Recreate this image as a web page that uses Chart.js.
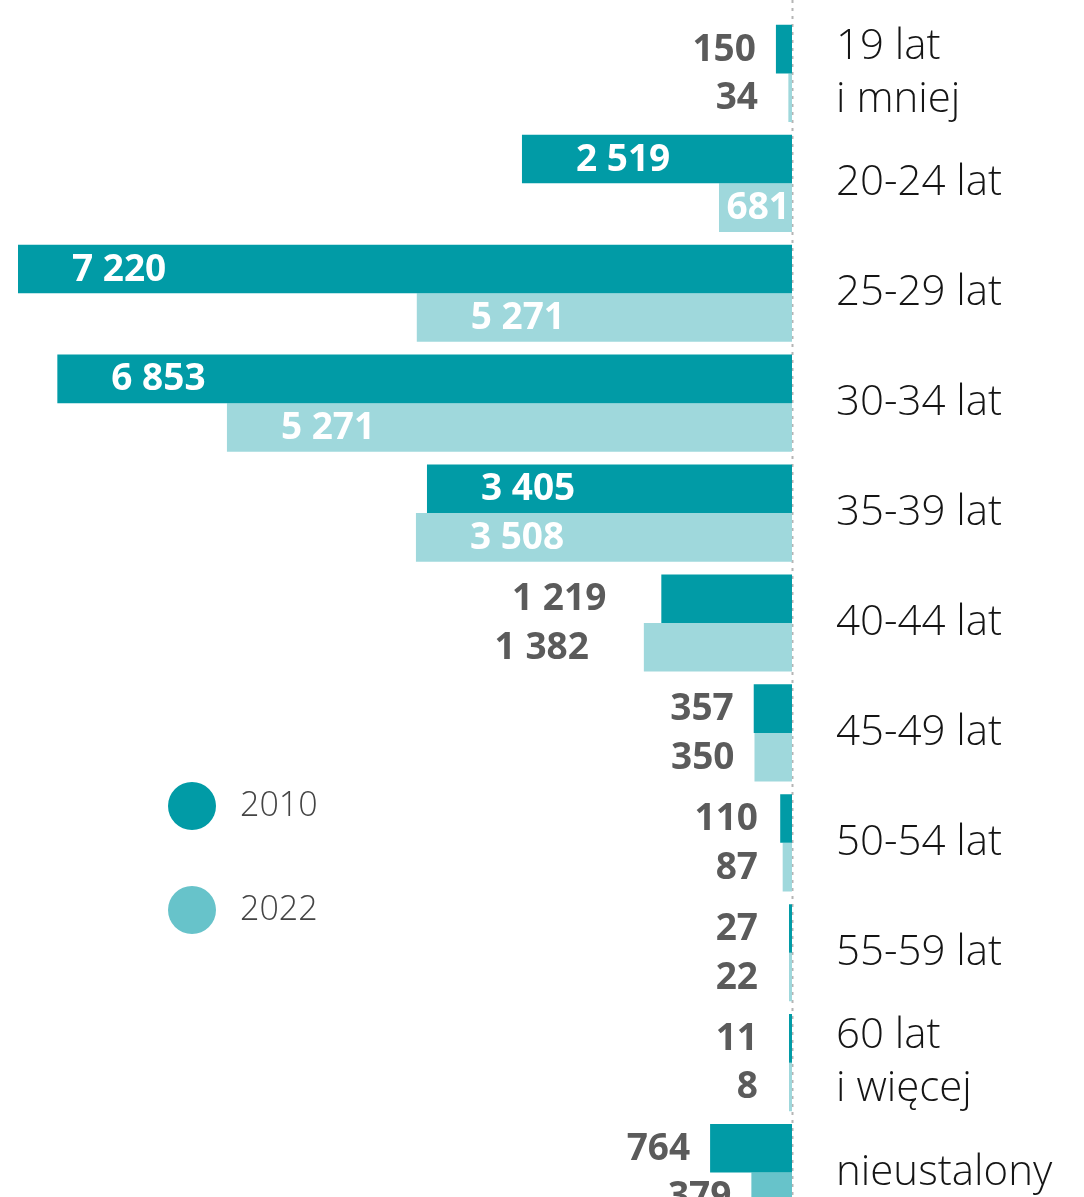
<!DOCTYPE html>
<html>
<head>
<meta charset="utf-8">
<script src="https://cdn.jsdelivr.net/npm/chart.js@4"></script>
<style>
  html, body { margin: 0; padding: 0; background: #fff; overflow: hidden; }
</style>
</head>
<body>
<canvas id="ageChart" width="1084" height="1240"></canvas>
<script>
'use strict';

// age groups, top to bottom
const ageGroups = [['19 lat', 'i mniej'], '20-24 lat', '25-29 lat', '30-34 lat', '35-39 lat',
  '40-44 lat', '45-49 lat', '50-54 lat', '55-59 lat', ['60 lat', 'i więcej'], 'nieustalony'];
const years = ['2010', '2022'];
const values2010 = [150, 2519, 7220, 6853, 3405, 1219, 357, 110, 27, 11, 764];
// bar lengths as drawn in the picture
const values2022 = [34, 681, 3500, 5271, 3508, 1382, 350, 87, 22, 8, 379];
// numbers printed next to the 2022 bars (25-29 is printed as 5 271)
const printed2022 = [34, 681, 5271, 5271, 3508, 1382, 350, 87, 22, 8, 379];
const maxValue = 7220;

const dark = '#019ba6';
const light = '#9fd8dc';
const legendLight = '#67c3ca';

const insideLabels = [
  [false, true, true, true, true, false, false, false, false, false, false],
  [false, true, true, true, true, false, false, false, false, false, false]
];

function fmt(n) {
  return String(n).replace(/\B(?=(\d{3})+(?!\d))/g, ' ');
}

const ctx = document.getElementById('ageChart').getContext('2d');

//Value labels, dotted zero line and legend
const extrasPlugin = {
  id: 'extras',
  beforeDatasetsDraw(chart) {
    const c = chart.ctx;
    const x0 = chart.scales.x.getPixelForValue(0);
    c.save();
    c.strokeStyle = '#b5b5b5';
    c.lineWidth = 2;
    c.setLineDash([3, 5]);
    c.beginPath();
    c.moveTo(x0 + 0.5, 0);
    c.lineTo(x0 + 0.5, chart.height);
    c.stroke();
    c.restore();
  },
  afterDatasetsDraw(chart) {
    const c = chart.ctx;
    const base = chart.scales.x.getPixelForValue(0);
    c.save();
    c.font = 'bold 37px "Open Sans", "Noto Sans", sans-serif';
    c.textBaseline = 'middle';
    for (let d = 0; d < 2; d++) {
      const meta = chart.getDatasetMeta(d);
      const shown = d === 0 ? values2010 : printed2022;
      meta.data.forEach((bar, i) => {
        const text = fmt(shown[i]);
        const w = c.measureText(text).width;
        const start = bar.x;
        if (insideLabels[d][i]) {
          c.fillStyle = '#ffffff';
          c.textAlign = 'left';
          const x = Math.min(start + 54, base - w - 2);
          c.fillText(text, x, bar.y + 1);
        } else {
          c.fillStyle = '#5b5b5b';
          c.textAlign = 'right';
          const gap = chart.data.datasets[d].data[i] > 1000 ? 55 : 20;
          c.fillText(text, Math.min(start - gap, 758), bar.y + 1);
        }
      });
    }
    // legend
    const legend = [[dark, 806], [legendLight, 910]];
    c.font = '300 34px "Open Sans", "Noto Sans", sans-serif';
    c.textAlign = 'left';
    for (let k = 0; k < 2; k++) {
      c.fillStyle = legend[k][0];
      c.beginPath();
      c.arc(192, legend[k][1], 24, 0, Math.PI * 2);
      c.fill();
      c.fillStyle = '#444444';
      c.fillText(years[k], 240, legend[k][1]);
    }
    c.restore();
  }
};

const colors2022 = values2022.map((v, i) => i === values2022.length - 1 ? legendLight : light);

new Chart(ctx, {
  type: 'bar',
  data: {
    labels: ageGroups,
    datasets: [{
      label: years[0],
      data: values2010,
      backgroundColor: dark,
      borderWidth: 0,
      barPercentage: 1,
      categoryPercentage: 0.884,
      minBarLength: 3
    }, {
      label: years[1],
      data: values2022,
      backgroundColor: colors2022,
      borderWidth: 0,
      barPercentage: 1,
      categoryPercentage: 0.884,
      minBarLength: 3
    }]
  },
  options: {
    indexAxis: 'y',
    responsive: false,
    animation: false,
    layout: { padding: { left: 18, right: 0, top: 18.5, bottom: 12.5 } },
    plugins: { legend: { display: false }, tooltip: { enabled: false } },
    scales: {
      x: {
        display: false,
        reverse: true,
        min: 0,
        max: maxValue
      },
      y: {
        position: 'right',
        grid: { display: false, drawTicks: false },
        border: { display: false },
        afterFit: (scale) => {
          scale.width = 292;
          scale.paddingTop = 0;
          scale.paddingBottom = 0;
        },
        ticks: {
          padding: 44,
          color: '#151515',
          font: { family: '"Open Sans", "Noto Sans", sans-serif', size: 42, weight: 300, lineHeight: 1.27 }
        }
      }
    }
  },
  plugins: [extrasPlugin]
});
</script>
</body>
</html>
